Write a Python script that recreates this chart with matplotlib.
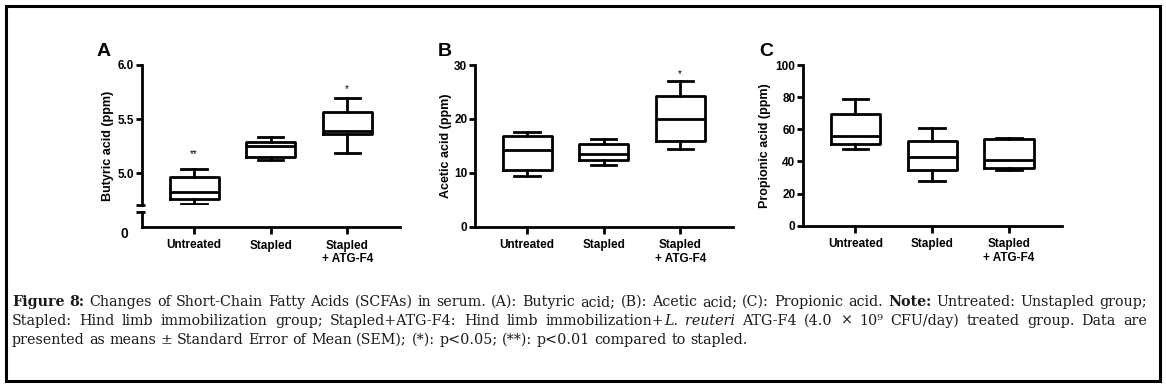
import matplotlib
matplotlib.use("Agg")
import matplotlib.pyplot as plt
from matplotlib.patches import Rectangle

W, H = 1166, 386

# group names on the x axis
categories = ["Untreated", "Stapled", "Stapled\n+ ATG-F4"]

# (A) butyric acid, ppm: whisker low, Q1, median, Q3, whisker high
butyric_lo = [4.71, 5.125, 5.185]
butyric_q1 = [4.755, 5.15, 5.365]
butyric_med = [4.825, 5.25, 5.39]
butyric_q3 = [4.96, 5.285, 5.565]
butyric_hi = [5.035, 5.335, 5.695]

# (B) acetic acid, ppm
acetic_lo = [9.45, 11.4, 14.4]
acetic_q1 = [10.6, 12.4, 15.9]
acetic_med = [14.3, 13.5, 19.9]
acetic_q3 = [16.8, 15.4, 24.2]
acetic_hi = [17.5, 16.2, 27.0]

# (C) propionic acid, ppm
propionic_lo = [47.7, 28.0, 34.7]
propionic_q1 = [50.8, 34.5, 35.9]
propionic_med = [55.8, 43.0, 40.9]
propionic_q3 = [69.5, 52.9, 53.7]
propionic_hi = [78.8, 60.6, 54.4]

# significance marks (group index, y value, text)
butyric_marks = [(0, 5.175, "**"), (2, 5.78, "*")]
acetic_marks = [(2, 28.4, "*")]

plt.rcParams["font.family"] = ["Liberation Sans", "DejaVu Sans"]
LW = 2.0
TICK_FS = 8.5


def px_box(x0, y0, x1, y1):
    return [x0 / W, 1 - y1 / H, (x1 - x0) / W, (y1 - y0) / H]


def make_stats(lo, q1, med, q3, hi):
    return [dict(whislo=a, q1=b, med=c, q3=d, whishi=e, fliers=[])
            for a, b, c, d, e in zip(lo, q1, med, q3, hi)]


def draw_boxes(ax, stats):
    line = dict(color="black", linewidth=LW)
    ax.bxp(stats, positions=[1, 2, 3], widths=0.64, capwidths=0.33,
           showfliers=False, boxprops=line, medianprops=line,
           whiskerprops=line, capprops=line)


def style_axis(ax):
    for s in ["top", "right"]:
        ax.spines[s].set_visible(False)
    for s in ["left", "bottom"]:
        ax.spines[s].set_linewidth(LW)
    ax.tick_params(width=LW, length=4, labelsize=TICK_FS)
    ax.tick_params(axis="y", pad=1.5)
    for lab in ax.get_yticklabels():
        lab.set_fontweight("bold")
    ax.set_xlim(0.32, 3.69)


def set_xcats(ax):
    ax.set_xticks([1, 2, 3])
    ax.set_xticklabels(categories, fontweight="bold", fontsize=TICK_FS)
    ax.tick_params(axis="x", pad=4, length=5)


fig = plt.figure(figsize=(W / 100, H / 100), dpi=100)

# ---- panel A, broken y axis ----
axA = fig.add_axes(px_box(142, 65, 400, 205.4))
draw_boxes(axA, make_stats(butyric_lo, butyric_q1, butyric_med, butyric_q3, butyric_hi))
axA.set_ylim(4.7, 6.0)
axA.set_yticks([5.0, 5.5, 6.0])
axA.set_yticklabels(["5.0", "5.5", "6.0"])
style_axis(axA)
axA.spines["bottom"].set_visible(False)
axA.tick_params(axis="x", bottom=False, labelbottom=False)
for i, y, s in butyric_marks:
    axA.text(i + 1, y, s, ha="center", va="center", fontsize=7)
axA.plot([-0.025, 0.012], [0, 0], transform=axA.transAxes, color="black",
         linewidth=LW, clip_on=False, solid_capstyle="butt")

axA0 = fig.add_axes(px_box(142, 212, 400, 227))
axA0.set_ylim(0, 1)
axA0.set_yticks([0])
axA0.set_yticklabels(["0"])
style_axis(axA0)
set_xcats(axA0)
axA0.tick_params(axis="y", length=0, pad=10, labelsize=10)
axA0.get_yticklabels()[0].set_va("top")
axA0.plot([-0.025, 0.012], [1, 1], transform=axA0.transAxes, color="black",
          linewidth=LW, clip_on=False, solid_capstyle="butt")

# ---- panel B ----
axB = fig.add_axes(px_box(475, 65, 733, 226.7))
draw_boxes(axB, make_stats(acetic_lo, acetic_q1, acetic_med, acetic_q3, acetic_hi))
axB.set_ylim(0, 30)
axB.set_yticks([0, 10, 20, 30])
style_axis(axB)
set_xcats(axB)
for i, y, s in acetic_marks:
    axB.text(i + 1, y, s, ha="center", va="center", fontsize=7)

# ---- panel C ----
axC = fig.add_axes(px_box(803, 65, 1062, 225.7))
draw_boxes(axC, make_stats(propionic_lo, propionic_q1, propionic_med, propionic_q3, propionic_hi))
axC.set_ylim(0, 100)
axC.set_yticks([0, 20, 40, 60, 80, 100])
style_axis(axC)
set_xcats(axC)

# y labels and panel letters
for x, lab in [(108, "Butyric acid (ppm)"), (446, "Acetic acid (ppm)"),
               (765, "Propionic acid (ppm)")]:
    fig.text(x / W, 1 - 146 / H, lab, rotation=90, ha="center", va="center",
             fontsize=9, fontweight="bold")
for x, lab in [(104, "A"), (445, "B"), (766, "C")]:
    fig.text(x / W, 1 - 52 / H, lab, ha="center", va="center",
             fontsize=14, fontweight="bold")

# ---- caption, justified by hand ----
caption = [
    [("Figure 8:", "bold", False),
     ("Changes of Short-Chain Fatty Acids (SCFAs) in serum. (A): Butyric acid; "
      "(B): Acetic acid; (C): Propionic acid.", "normal", False),
     ("Note:", "bold", False),
     ("Untreated: Unstapled group;", "normal", False)],
    [("Stapled: Hind limb immobilization group; Stapled+ATG-F4: Hind limb "
      "immobilization+", "normal", False),
     ("L. reuteri", "italic", True),
     ("ATG-F4 (4.0 × 10⁹ CFU/day) treated group. Data are", "normal", False)],
    [("presented as means ± Standard Error of Mean (SEM); (*): p<0.05; (**): "
      "p<0.01 compared to stapled.", "normal", False)],
]
cap_y = [306, 325, 344]
cap_x0, cap_x1 = 12, 1147
cap_font = dict(family=["DejaVu Serif"], fontsize=10.3, color="#1a1a1a")

renderer = fig.canvas.get_renderer()
space_t = fig.text(0, 0, "a a", **cap_font)
nospace_t = fig.text(0, 0, "aa", **cap_font)
space_w = (space_t.get_window_extent(renderer).width
           - nospace_t.get_window_extent(renderer).width)
space_t.remove()
nospace_t.remove()

for li, line in enumerate(caption):
    words = []  # (text, style, glued_to_previous)
    for seg, style, glue in line:
        parts = seg.split(" ")
        for k, p in enumerate(parts):
            words.append((p, style, glue and k == 0))
    texts, widths = [], []
    for w, style, _ in words:
        kw = dict(cap_font)
        if style == "bold":
            kw["fontweight"] = "bold"
        elif style == "italic":
            kw["fontstyle"] = "italic"
        t = fig.text(0, 1 - cap_y[li] / H, w, va="baseline", **kw)
        texts.append(t)
        widths.append(t.get_window_extent(renderer).width)
    n_gaps = sum(1 for w in words[1:] if not w[2])
    if li < len(caption) - 1 and n_gaps:
        gap = (cap_x1 - cap_x0 - sum(widths)) / n_gaps
    else:
        gap = space_w
    x = cap_x0
    for k, (t, wd) in enumerate(zip(texts, widths)):
        if k > 0 and not words[k][2]:
            x += gap
        t.set_x(x / W)
        x += wd

# outer frame
fig.add_artist(Rectangle((5.5 / W, 1 - 380.5 / H), 1154 / W, 374.5 / H,
                         transform=fig.transFigure, fill=False,
                         edgecolor="black", linewidth=2.2))

fig.savefig("out.png", dpi=100)
